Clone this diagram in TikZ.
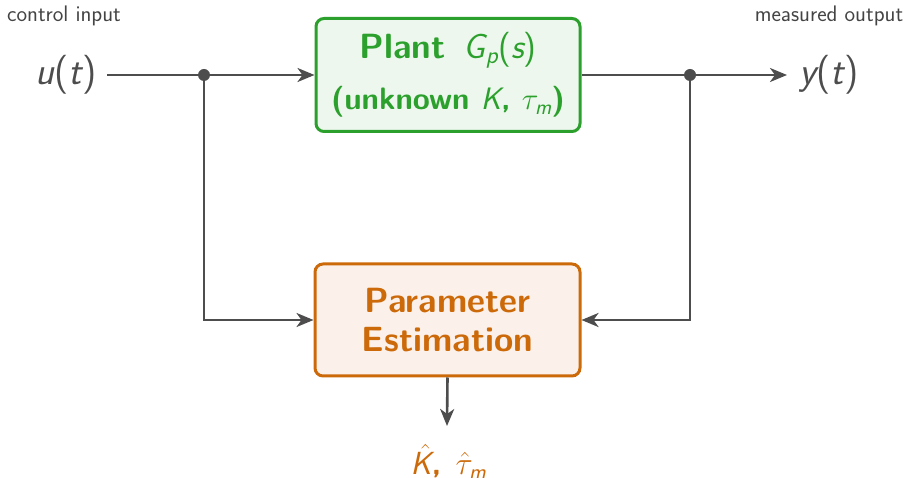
\RequirePackage{fix-cm}
\documentclass[tikz,border=0pt]{standalone}
\usepackage{amsmath}
\usetikzlibrary{arrows.meta}
\definecolor{lineg}{HTML}{4D4D4D}
\definecolor{txtg}{HTML}{444444}
\definecolor{pgreen}{HTML}{2CA02C}
\definecolor{pgfill}{HTML}{EDF7EE}
\definecolor{porange}{HTML}{CC6A0A}
\definecolor{pofill}{HTML}{FBF0EA}
\newcommand{\mvar}[1]{\text{\mdseries\sffamily\slshape #1}}
\newcommand{\mpar}[1]{\text{\mdseries\sffamily #1}}
\tikzset{
  blk/.style={draw, line width=3pt, rounded corners=8pt, align=center, inner sep=0pt},
  plantbox/.style={blk, draw=pgreen, fill=pgfill, text=pgreen, minimum width=264pt, minimum height=113pt,
    font=\fontsize{31}{51}\selectfont\sffamily\bfseries},
  estbox/.style={blk, draw=porange, fill=pofill, text=porange, minimum width=265pt, minimum height=112pt,
    font=\fontsize{35}{39}\selectfont\sffamily\bfseries},
  sig/.style={text=lineg, inner sep=0pt, font=\fontsize{39}{42}\selectfont\sffamily},
  small/.style={text=txtg, inner sep=0pt, font=\fontsize{22.5}{25}\selectfont\sffamily},
  conn/.style={draw=lineg, line width=2.6pt},
  arr/.style={conn, -{Stealth[length=17pt,width=14pt,inset=5pt]}},
  dot/.style={circle, fill=lineg, inner sep=0pt, minimum size=12pt}
}
\begin{document}
\begin{tikzpicture}[x=1pt,y=-1pt]
\useasboundingbox (0,0) rectangle (906,478);
\node[plantbox] (plant) at (448,75) {{\fontsize{35}{51}\selectfont Plant\ \,$\mvar{G}_{\mvar{p}}\mpar{(}\mvar{s}\mpar{)}$}\\(unknown $\mvar{K}$, $\tau_{\mvar{m}}$)};
\node[estbox] (est) at (447.5,320) {Parameter\\Estimation};
\node[sig] (u) at (66,75) {$\mvar{u}\mpar{(}\mvar{t}\mpar{)}$};
\node[sig] (y) at (829,75) {$\mvar{y}\mpar{(}\mvar{t}\mpar{)}$};
\node[small] (ci) at (64,16) {control input};
\node[small] (mo) at (829,16) {measured output};
\node[text=porange, inner sep=0pt, font=\fontsize{32}{36}\selectfont\sffamily\bfseries] (kt) at (448.5,462) {$\skew{5}{\hat}{\mvar{K}}$,\;\,$\hat{\tau}_{\mvar{m}}$};
\node[dot] (d1) at (204,75) {};
\node[dot] (d2) at (690,75) {};
\coordinate (uin) at (107,75);
\coordinate (yout) at (787,75);
\coordinate (c1) at (204,320);
\coordinate (c2) at (690,320);
\coordinate (kout) at (447,426);
\draw[conn] (uin) -- (d1);
\draw[arr] (d1) -- (plant.west);
\draw[conn] (plant.east) -- (d2);
\draw[arr] (d2) -- (yout);
\draw[arr] (d1.center) -- (c1) -- (est.west |- c1);
\draw[arr] (d2.center) -- (c2) -- (est.east |- c2);
\draw[arr] (est.south) -- (kout);
\end{tikzpicture}
\end{document}
